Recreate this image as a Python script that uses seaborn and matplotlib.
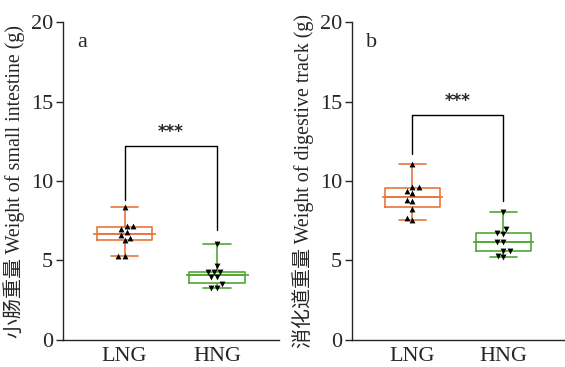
import numpy as np
import pandas as pd
import matplotlib
matplotlib.use("Agg")
import matplotlib.pyplot as plt
import seaborn as sns

# ==================================
# DATA
# ==================================
groups = ["LNG", "HNG"]
si_lng = [8.38, 7.15, 7.15, 6.96, 6.77, 6.58, 6.44, 6.27, 5.26, 5.26]
si_hng = [6.02, 4.65, 4.26, 4.26, 4.26, 3.94, 3.94, 3.50, 3.30, 3.30]
dt_lng = [11.05, 9.64, 9.64, 9.37, 9.22, 8.83, 8.75, 8.26, 7.65, 7.55]
dt_hng = [8.07, 6.98, 6.72, 6.66, 6.14, 6.14, 5.60, 5.60, 5.30, 5.20]
yticks = [0, 5, 10, 15, 20]
ylabels = ["小肠重量 Weight of small intestine (g)", "消化道重量 Weight of digestive track (g)"]
panel_tags = ["a", "b"]
# significance bracket: (top, left leg end, right leg end)
brackets = [(12.2, 8.8, 6.9), (14.15, 11.7, 8.76)]

colors = {"LNG": "#E8773A", "HNG": "#52A834"}
markers = {"LNG": "^", "HNG": "v"}

sns.set_style("ticks")
plt.rcParams["font.family"] = ["Liberation Serif", "Noto Sans CJK SC"]
plt.rcParams["axes.linewidth"] = 1.0

fig = plt.figure(figsize=(5.65, 3.67), dpi=100)
ax1 = fig.add_axes([0.1115, 0.0736, 0.3825, 0.8664])
ax2 = fig.add_axes([0.623, 0.0736, 0.376, 0.8664])

panels = [(ax1, si_lng, si_hng), (ax2, dt_lng, dt_hng)]

for i, (ax, lng, hng) in enumerate(panels):
    df = pd.DataFrame({
        "group": ["LNG"] * len(lng) + ["HNG"] * len(hng),
        "weight": lng + hng,
    })
    sns.boxplot(
        data=df, x="group", y="weight", hue="group", order=groups,
        palette=colors, fill=False, whis=(0, 100), width=0.6,
        linewidth=1.2, showfliers=False, legend=False, ax=ax
    )
    # median line a bit wider than the box
    for j, g in enumerate(groups):
        med = np.median(df.loc[df["group"] == g, "weight"])
        ax.hlines(med, j - 0.34, j + 0.34, color=colors[g], lw=1.2, zorder=3)
    for g in groups:
        sub = df[df["group"] == g]
        sns.swarmplot(
            data=sub, x="group", y="weight", order=groups,
            marker=markers[g], color="black", size=4.2, ax=ax, zorder=4
        )
    top, l_end, r_end = brackets[i]
    ax.plot([0, 0, 1, 1], [l_end, top, top, r_end], color="black", lw=1.0)
    ax.text(0.5, top + 0.3, "***", ha="center", va="bottom", fontsize=12,
            fontweight="bold", family="DejaVu Sans")

    ax.set_ylim(0, 20)
    ax.set_yticks(yticks)
    ax.set_xlim(-0.665, 1.67)
    ax.set_xlabel("")
    ax.set_ylabel(ylabels[i], fontsize=14.4, labelpad=4)
    ax.tick_params(axis="y", direction="out", length=5, width=1, labelsize=16, pad=2)
    ax.tick_params(axis="x", length=0, labelsize=16, pad=5)
    for s in ["top", "right"]:
        ax.spines[s].set_visible(False)
    ax.text(0.065, 0.965, panel_tags[i], transform=ax.transAxes, fontsize=16,
            ha="left", va="top")

plt.savefig("out.png", dpi=100)
